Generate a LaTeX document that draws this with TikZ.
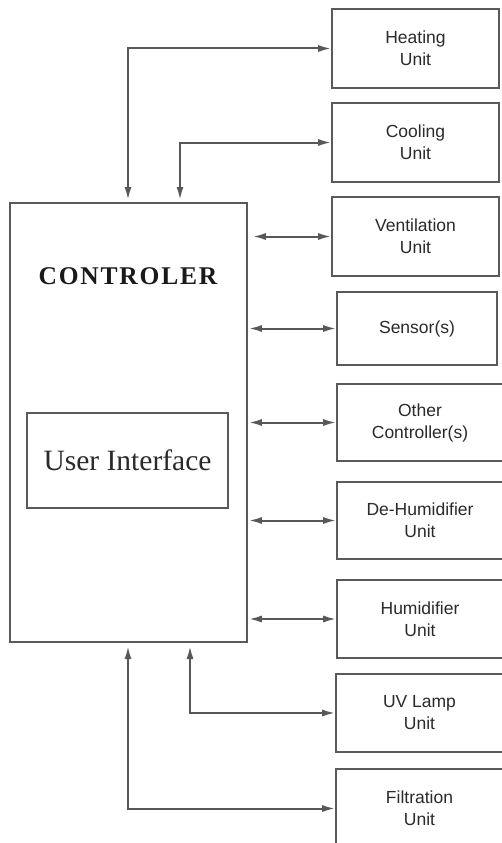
\documentclass[tikz,border=0pt]{standalone}
\usepackage{fontspec}
\setmainfont{Liberation Serif}
\setsansfont{Liberation Sans}
\usetikzlibrary{arrows.meta}
\definecolor{edge}{HTML}{5A5A5A}
\definecolor{wire}{HTML}{585858}
\definecolor{ink}{HTML}{2A2A2A}
\tikzset{
  unit/.style={draw=edge, line width=1.6pt, fill=white, align=center,
    text=ink, font=\sffamily\fontsize{17.5}{22}\selectfont,
    inner sep=0pt},
  conn/.style={draw=wire, line width=2pt,
    {Latex[length=13pt,width=7pt]}-{Latex[length=13pt,width=7pt]}}
}
\begin{document}
\begin{tikzpicture}[x=1pt,y=-1pt]
\useasboundingbox (0,0) rectangle (501,843);

% controller and its user interface
\node[draw=edge, line width=1.6pt, minimum width=237pt, minimum height=439pt,
      inner sep=0pt] (ctrl) at (128.5,422.5) {};
\node[text=black!90, font=\fontsize{25.5}{30}\selectfont\bfseries\addfontfeature{LetterSpace=7}]
      (ctrltitle) at (128,276) {CONTROLER};
\node[draw=edge, line width=1.6pt, minimum width=201pt, minimum height=95pt,
      inner sep=0pt, text=ink, font=\fontsize{29.5}{34}\selectfont]
      (ui) at (127.5,460.5) {User Interface};

% peripheral units
\node[unit, minimum width=167pt, minimum height=79pt] (heat) at (415.5,48.5) {Heating\\Unit};
\node[unit, minimum width=167pt, minimum height=79pt] (cool) at (415.5,142.5) {Cooling\\Unit};
\node[unit, minimum width=167pt, minimum height=79pt] (vent) at (415.5,236.5) {Ventilation\\Unit};
\node[unit, minimum width=160pt, minimum height=73pt] (sens) at (417,328.5) {Sensor(s)};
\node[unit, minimum width=166pt, minimum height=77pt] (other) at (420,422.5) {Other\\Controller(s)};
\node[unit, minimum width=166pt, minimum height=77pt] (dehum) at (420,520.5) {De-Humidifier\\Unit};
\node[unit, minimum width=166pt, minimum height=78pt] (hum) at (420,619) {Humidifier\\Unit};
\node[unit, minimum width=167pt, minimum height=78pt] (uv) at (419.5,713) {UV Lamp\\Unit};
\node[unit, minimum width=167pt, minimum height=79pt] (filt) at (419.5,808.5) {Filtration\\Unit};

% arrow ends just outside the controller
\coordinate (heatend) at (128,200);
\coordinate (coolend) at (180,200);
\coordinate (uvend) at (190,646);
\coordinate (filtend) at (128,646);

% connectors
\draw[conn] (heat.west) -| (heatend);
\draw[conn] (cool.west) -| (coolend);
\draw[conn] (vent.west) -- ([xshift=5pt]ctrl.east |- vent.west);
\draw[conn] (sens.west) -- ([xshift=1pt]ctrl.east |- sens.west);
\draw[conn] (other.west) -- ([xshift=1pt]ctrl.east |- other.west);
\draw[conn] (dehum.west) -- ([xshift=1pt]ctrl.east |- dehum.west);
\draw[conn] (hum.west) -- ([xshift=1pt]ctrl.east |- hum.west);
\draw[conn] (uv.west) -| (uvend);
\draw[conn] (filt.west) -| (filtend);
\end{tikzpicture}
\end{document}
